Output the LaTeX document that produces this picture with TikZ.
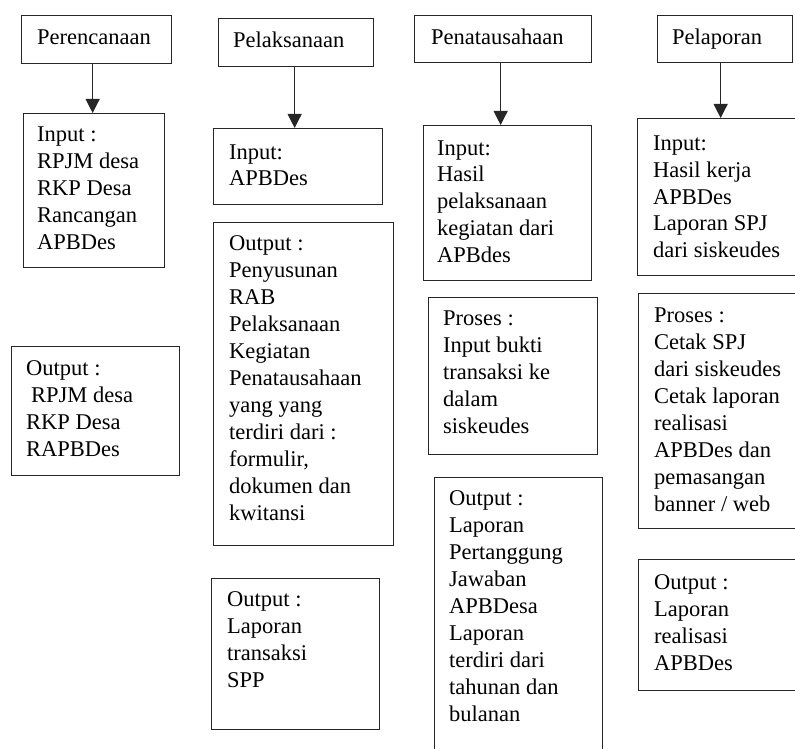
\documentclass[tikz,border=0pt]{standalone}
\usepackage{fontspec}
\setmainfont{Liberation Serif}
\usetikzlibrary{arrows.meta}
\newcommand{\boxtext}[1]{\begin{tabular}[t]{@{}l@{}}#1\end{tabular}}
\tikzset{
  box/.style={draw=black!85, line width=1.3pt, anchor=north west, inner sep=0pt},
  txt/.style={anchor=base west, inner sep=0pt, font=\fontsize{22.5}{27}\selectfont, text=black},
  arr/.style={draw=black!85, line width=1pt, -{Triangle[width=14pt,length=14pt]}}
}
\begin{document}
\begin{tikzpicture}[x=1pt,y=-1pt]
\useasboundingbox (0,0) rectangle (795,749);
\clip (0,0) rectangle (795,749);
% column 1
\node[box, minimum width=150pt, minimum height=48pt] (p1) at (21,15) {};
\node[txt] (tp1) at (37,45) {Perencanaan};
\node[box, minimum width=141pt, minimum height=154pt] (i1) at (23,113) {};
\node[txt] (ti1) at (37,142) {\boxtext{Input :\\RPJM desa\\RKP Desa\\Rancangan\\APBDes}};
\node[box, minimum width=168pt, minimum height=129pt] (o1) at (11,346) {};
\node[txt] (to1) at (26,375) {\boxtext{Output :\\\hspace{5pt}RPJM desa\\RKP Desa\\RAPBDes}};
% column 2
\node[box, minimum width=155pt, minimum height=48pt] (p2) at (218,18) {};
\node[txt] (tp2) at (233,48) {Pelaksanaan};
\node[box, minimum width=169pt, minimum height=76pt] (i2) at (213,128) {};
\node[txt] (ti2) at (229,159) {\boxtext{Input:\\APBDes}};
\node[box, minimum width=180pt, minimum height=323pt] (o2) at (213,222) {};
\node[txt] (to2) at (229,250) {\boxtext{Output :\\Penyusunan\\RAB\\Pelaksanaan\\Kegiatan\\Penatausahaan\\yang yang\\terdiri dari :\\formulir,\\dokumen dan\\kwitansi}};
\node[box, minimum width=168pt, minimum height=151pt] (o2b) at (211,578) {};
\node[txt] (to2b) at (227,606) {\boxtext{Output :\\Laporan\\transaksi\\SPP}};
% column 3
\node[box, minimum width=177pt, minimum height=47pt] (p3) at (414,15) {};
\node[txt] (tp3) at (431,45) {Penatausahaan};
\node[box, minimum width=168pt, minimum height=155pt] (i3) at (423,125) {};
\node[txt] (ti3) at (437,155) {\boxtext{Input:\\Hasil\\pelaksanaan\\kegiatan dari\\APBdes}};
\node[box, minimum width=169pt, minimum height=157pt] (pr3) at (428,297) {};
\node[txt] (tpr3) at (443,325) {\boxtext{Proses :\\Input bukti\\transaksi ke\\dalam\\siskeudes}};
\node[box, minimum width=168pt, minimum height=300pt] (o3) at (434,477) {};
\node[txt] (to3) at (449,505) {\boxtext{Output :\\Laporan\\Pertanggung\\Jawaban\\APBDesa\\Laporan\\terdiri dari\\tahunan dan\\bulanan}};
% column 4
\node[box, minimum width=135pt, minimum height=47pt] (p4) at (657,15) {};
\node[txt] (tp4) at (672,45) {Pelaporan};
\node[box, minimum width=180pt, minimum height=157pt] (i4) at (637,118) {};
\node[txt] (ti4) at (653,150) {\boxtext{Input:\\Hasil kerja\\APBDes\\Laporan SPJ\\dari siskeudes}};
\node[box, minimum width=180pt, minimum height=235pt] (pr4) at (638,293) {};
\node[txt] (tpr4) at (654,322) {\boxtext{Proses :\\Cetak SPJ\\dari siskeudes\\Cetak laporan\\realisasi\\APBDes dan\\pemasangan\\banner / web}};
\node[box, minimum width=180pt, minimum height=131pt] (o4) at (638,559) {};
\node[txt] (to4) at (654,589) {\boxtext{Output :\\Laporan\\realisasi\\APBDes}};
% arrows
\draw[arr] ([xshift=-4pt]p1.south) -- ([xshift=-4pt]p1.south |- i1.north);
\draw[arr] ([xshift=-1.5pt]p2.south) -- ([xshift=-1.5pt]p2.south |- i2.north);
\draw[arr] ([xshift=-2.5pt]p3.south) -- ([xshift=-2.5pt]p3.south |- i3.north);
\draw[arr] ([xshift=-4.5pt]p4.south) -- ([xshift=-4.5pt]p4.south |- i4.north);
\end{tikzpicture}
\end{document}
